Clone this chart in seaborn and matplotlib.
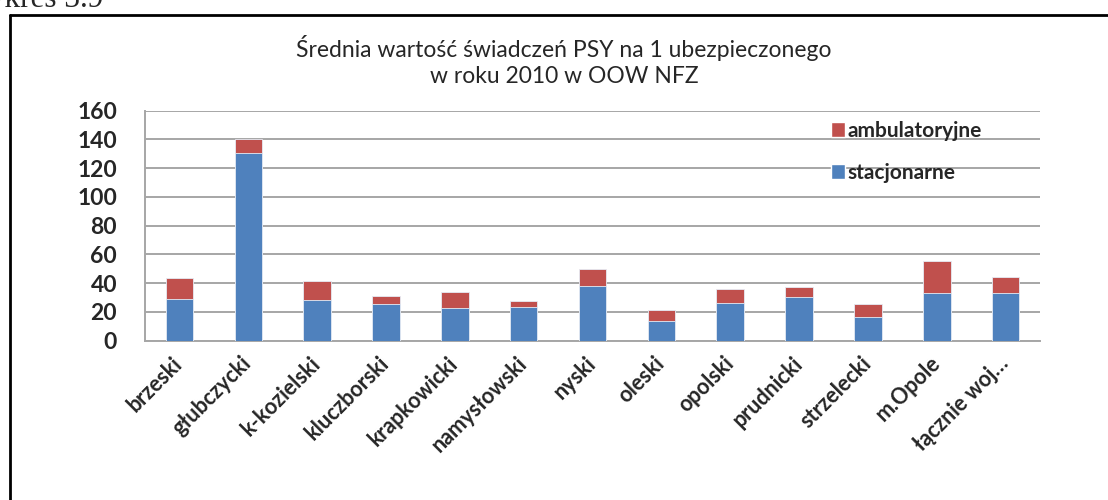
import pandas as pd
import seaborn as sns
from matplotlib import pyplot as plt
from matplotlib.lines import Line2D
from matplotlib.patches import Patch
from matplotlib.transforms import ScaledTranslation

categories = ["brzeski", "głubczycki", "k-kozielski", "kluczborski", "krapkowicki",
              "namysłowski", "nyski", "oleski", "opolski", "prudnicki", "strzelecki",
              "m.Opole", "łącznie woj…"]
stacjonarne = [29.0, 130.4, 28.3, 25.5, 23.0, 23.7, 38.3, 13.9, 26.4, 30.2, 16.5, 33.0, 33.0]
ambulatoryjne = [14.4, 9.7, 13.4, 5.4, 10.9, 3.7, 11.6, 7.2, 9.8, 6.9, 9.0, 22.2, 11.5]
yticks = [0, 20, 40, 60, 80, 100, 120, 140, 160]

blue = "#4f81bd"
red = "#c0504d"
grid = "#a6a6a6"

sns.set_style("white")
plt.rcParams["font.family"] = ["Lato", "DejaVu Sans"]

df = pd.DataFrame({"powiat": categories,
                   "stacjonarne": stacjonarne,
                   "ambulatoryjne": ambulatoryjne})
df["razem"] = df["stacjonarne"] + df["ambulatoryjne"]

fig = plt.figure(figsize=(11.08, 5.0), dpi=100)
ax = fig.add_axes([145 / 1108, 1 - 340.7 / 500, 895 / 1108, 230 / 500])

# stacked bars: total (red) behind, stacjonarne (blue) in front
sns.barplot(data=df, x="powiat", y="razem", color=red, width=0.4,
            saturation=1, ax=ax, zorder=3, edgecolor="#e6ecf5", linewidth=0.6)
sns.barplot(data=df, x="powiat", y="stacjonarne", color=blue, width=0.4,
            saturation=1, ax=ax, zorder=3, edgecolor="#e6ecf5", linewidth=0.6)

ax.set_xlim(-0.5, len(categories) - 0.5)
ax.set_ylim(0, 160)
ax.set_yticks(yticks)
ax.set_yticklabels([str(v) for v in yticks], fontsize=16.5, fontweight="bold")
ax.yaxis.grid(True, color=grid, lw=1.4, zorder=0)
ax.set_axisbelow(True)
ax.set_xlabel("")
ax.set_ylabel("")

ax.set_xticks(range(len(categories)))
ax.set_xticklabels(categories, rotation=45, ha="right", va="center",
                   rotation_mode="anchor", fontsize=15.5, fontweight="bold")
shift = ScaledTranslation(6 / 72, 0, fig.dpi_scale_trans)
for lab in ax.get_xticklabels():
    lab.set_transform(lab.get_transform() + shift)
ax.set_xticks([i - 0.5 for i in range(len(categories) + 1)], minor=True)
ax.tick_params(axis="x", which="major", length=0, pad=14)
ax.tick_params(axis="x", which="minor", length=7, color=grid, width=1.4, direction="out")
ax.tick_params(axis="y", length=9, color=grid, width=1.4, direction="out", pad=11)

for s in ["top", "right"]:
    ax.spines[s].set_visible(False)
for s in ["left", "bottom"]:
    ax.spines[s].set_color(grid)
    ax.spines[s].set_linewidth(1.4)

handles = [Patch(facecolor=red, label="ambulatoryjne"),
           Patch(facecolor=blue, label="stacjonarne")]
fig.legend(handles=handles, loc="upper left", bbox_to_anchor=(831 / 1108, 1 - 121 / 500),
           frameon=False, borderpad=0, borderaxespad=0, handlelength=0.65,
           handleheight=0.75, handletextpad=0.12, labelspacing=1.05,
           prop={"size": 15, "weight": "bold"})

fig.text(564 / 1108, 1 - 61 / 500,
         "Średnia wartość świadczeń PSY na 1 ubezpieczonego\nw roku 2010 w OOW NFZ",
         ha="center", va="center", fontsize=16.5, linespacing=1.25)

# frame of the document figure and its caption
fig.add_artist(Line2D([10 / 1108, 10 / 1108], [0, 1 - 14.5 / 500], color="black", lw=2))
fig.add_artist(Line2D([10 / 1108, 1], [1 - 14.5 / 500, 1 - 14.5 / 500], color="black", lw=2))
fig.text(103 / 1108, 1 - 7 / 500, "Wykres 3.9", ha="right", va="baseline",
         fontsize=22.5, family="Liberation Serif")

fig.savefig("out.png", dpi=100)
